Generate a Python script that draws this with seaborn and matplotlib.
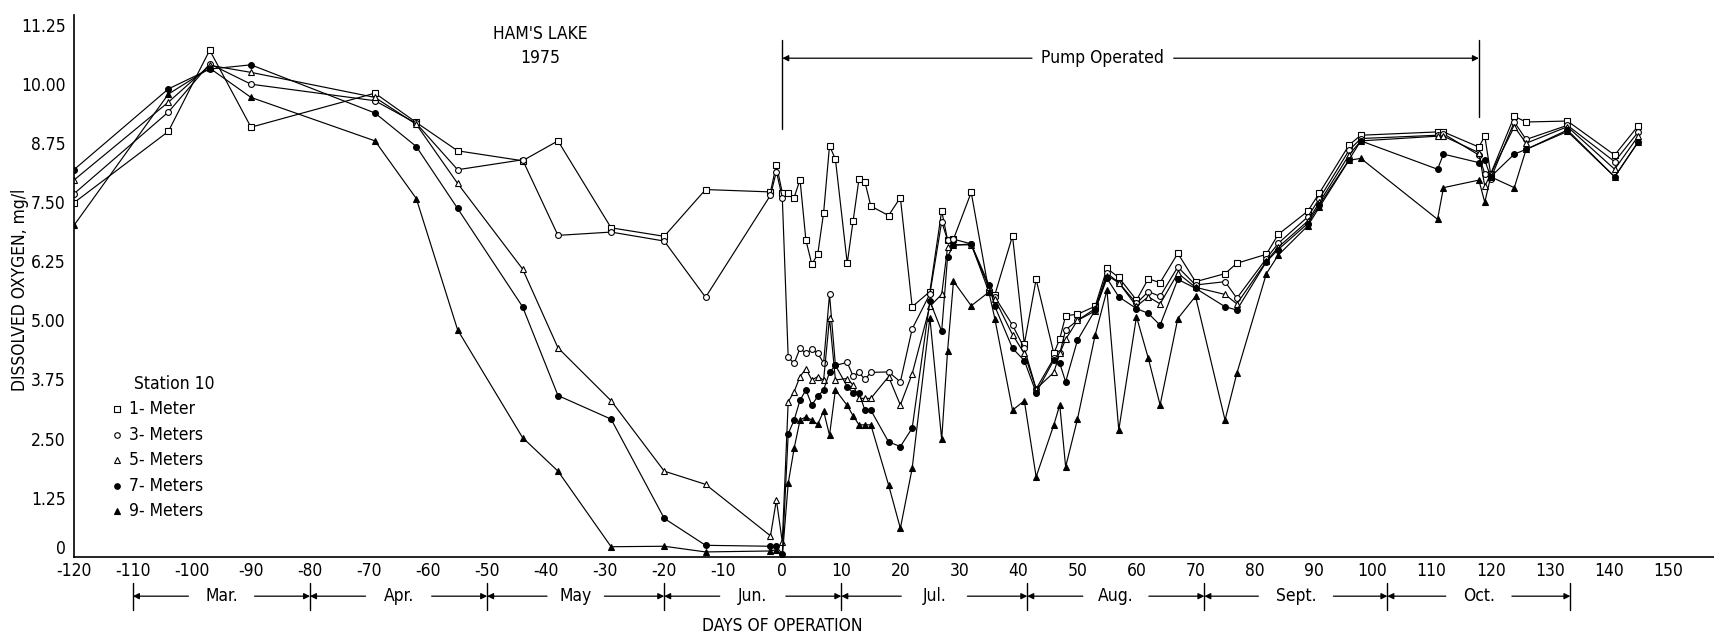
import matplotlib
matplotlib.use("Agg")
import matplotlib.pyplot as plt
from matplotlib import font_manager
from matplotlib.transforms import ScaledTranslation
import seaborn as sns
import pandas as pd

sns.set_theme(style="white")
_names = {f.name for f in font_manager.fontManager.ttflist}
_cond = [f for f in font_manager.fontManager.ttflist
         if f.name == "DejaVu Sans" and str(f.stretch) in ("condensed", "semi-condensed", "575")]
if "Liberation Sans Narrow" in _names:
    plt.rcParams['font.family'] = ['Liberation Sans Narrow', 'DejaVu Sans']
elif _cond:
    plt.rcParams['font.family'] = ['DejaVu Sans']
    plt.rcParams['font.stretch'] = 'condensed'
else:
    plt.rcParams['font.family'] = ['DejaVu Sans']
plt.rcParams['axes.unicode_minus'] = False

# ---------------- data ----------------
pre_days = [-120, -104, -97, -90, -69, -62, -55, -44, -38, -29, -20, -13, -2, -1]
post_days = [0, 1, 2, 3, 4, 5, 6, 7, 8, 9, 11, 12, 13, 14, 15, 18, 20, 22, 25, 27, 28, 29,
             32, 35, 36, 39, 41, 43, 46, 47, 48, 50, 53, 55, 57, 60, 62, 64, 67, 70, 75, 77,
             82, 84, 89, 91, 96, 98, 111, 112, 118, 119, 120, 124, 126, 133, 141, 145]
days = pre_days + post_days

m1 = [7.49, 9.00, 10.72, 9.09, 9.81, 9.19, 8.59, 8.38, 8.80, 6.96, 6.78, 7.77, 7.72, 8.30,
      7.70, 7.70, 7.60, 7.98, 6.70, 6.19, 6.40, 7.28, 8.70, 8.41, 6.21, 7.11, 8.00, 7.93, 7.42,
      7.22, 7.60, 5.29, 5.61, 7.32, 6.70, 6.72, 7.71, 5.61, 5.54, 6.79, 4.50, 5.87, 4.30, 4.61,
      5.10, 5.13, 5.30, 6.10, 5.91, 5.43, 5.88, 5.80, 6.42, 5.82, 5.99, 6.21, 6.40, 6.82, 7.31,
      7.70, 8.71, 8.92, 8.99, 8.99, 8.67, 8.90, 8.10, 9.32, 9.20, 9.22, 8.50, 9.12]
m3 = [7.68, 9.41, 10.43, 10.00, 9.65, 9.17, 8.19, 8.40, 6.80, 6.87, 6.68, 5.49, 7.65, 8.15,
      7.60, 4.22, 4.09, 4.41, 4.30, 4.39, 4.30, 4.10, 5.55, 4.05, 4.11, 3.82, 3.90, 3.75, 3.90,
      3.91, 3.70, 4.82, 5.56, 7.09, 6.70, 6.72, 6.62, 5.60, 5.50, 4.90, 4.41, 3.55, 4.20, 4.30,
      4.80, 5.00, 5.25, 6.00, 5.80, 5.36, 5.61, 5.51, 6.13, 5.75, 5.82, 5.47, 6.31, 6.63, 7.19,
      7.58, 8.60, 8.85, 8.92, 8.95, 8.50, 8.10, 8.00, 9.20, 8.83, 9.13, 8.36, 8.99]
m5 = [7.97, 9.62, 10.40, 10.25, 9.72, 9.15, 7.90, 6.09, 4.42, 3.30, 1.81, 1.53, 0.44, 1.20,
      0.31, 3.28, 3.49, 3.81, 3.98, 3.74, 3.81, 3.74, 5.05, 3.74, 3.77, 3.63, 3.35, 3.35, 3.35,
      3.81, 3.21, 3.87, 5.30, 5.55, 6.55, 6.60, 6.60, 5.70, 5.45, 4.70, 4.30, 3.55, 3.90, 4.30,
      4.60, 5.00, 5.20, 5.95, 5.80, 5.30, 5.50, 5.35, 6.00, 5.70, 5.55, 5.35, 6.25, 6.55, 7.10,
      7.50, 8.50, 8.80, 8.90, 8.90, 8.55, 7.84, 8.10, 9.10, 8.75, 9.10, 8.20, 8.90]
m7 = [8.19, 9.90, 10.32, 10.41, 9.39, 8.68, 7.37, 5.29, 3.41, 2.91, 0.81, 0.24, 0.22, 0.22,
      0.05, 2.60, 2.89, 3.31, 3.53, 3.21, 3.39, 3.53, 3.90, 4.05, 3.60, 3.46, 3.46, 3.10, 3.10,
      2.43, 2.33, 2.72, 5.41, 4.77, 6.35, 6.59, 6.62, 5.75, 5.30, 4.41, 4.15, 3.47, 4.16, 4.09,
      3.70, 4.58, 5.22, 5.89, 5.50, 5.25, 5.15, 4.90, 5.87, 5.68, 5.29, 5.22, 6.24, 6.50, 7.05,
      7.45, 8.40, 8.80, 8.20, 8.52, 8.34, 8.39, 8.04, 8.52, 8.62, 9.03, 8.04, 8.78]
m9 = [7.01, 9.79, 10.34, 9.72, 8.80, 7.58, 4.80, 2.52, 1.81, 0.21, 0.22, 0.10, 0.12, 0.15,
      0.00, 1.55, 2.29, 2.89, 2.96, 2.89, 2.80, 3.08, 2.57, 3.53, 3.20, 2.98, 2.79, 2.79, 2.79,
      1.52, 0.60, 1.87, 5.06, 2.48, 4.36, 5.83, 5.31, 5.60, 5.04, 3.10, 3.30, 1.69, 2.79, 3.21,
      1.90, 2.91, 4.69, 5.64, 2.68, 5.08, 4.20, 3.21, 5.04, 5.51, 2.89, 3.88, 5.99, 6.38, 7.00,
      7.40, 8.39, 8.43, 7.14, 7.81, 7.97, 7.50, 8.04, 7.81, 8.62, 9.00, 8.04, 8.78]

series_names = ["1- Meter", "3- Meters", "5- Meters", "7- Meters", "9- Meters"]
series_vals = [m1, m3, m5, m7, m9]
markers = ["s", "o", "^", "o", "^"]
filled = [False, False, False, True, True]
msizes = [4.2, 4.2, 4.2, 4.2, 4.2]

yticks = [0, 1.25, 2.50, 3.75, 5.00, 6.25, 7.50, 8.75, 10.00, 11.25]
ytick_labels = ["0", "1.25", "2.50", "3.75", "5.00", "6.25", "7.50", "8.75", "10.00", "11.25"]
xticks = list(range(-120, 151, 10))

month_bounds = [-110, -80, -50, -20, 10, 41.5, 71.5, 102.5, 133.5]
month_labels = ["Mar.", "Apr.", "May", "Jun.", "Jul.", "Aug.", "Sept.", "Oct."]

pump_start, pump_end = 0, 118

# ---------------- figure ----------------
fig = plt.figure(figsize=(17.15, 6.34), dpi=100)
ax = fig.add_axes([0.0431, 0.122, 0.9569, 0.854])

for name, vals, mk, fl, ms in zip(series_names, series_vals, markers, filled, msizes):
    df = pd.DataFrame({"day": days, "do": vals})
    sns.lineplot(data=df, x="day", y="do", ax=ax, color="black", lw=0.85,
                 marker=mk, markersize=ms, markerfacecolor=("black" if fl else "white"),
                 markeredgecolor="black", markeredgewidth=0.8,
                 estimator=None, sort=False, legend=False)

ax.set_xlim(-120, 158)
ax.set_ylim(0, 11.46)
ax.set_xlabel("")
ax.set_ylabel("")
for s in ["top", "right"]:
    ax.spines[s].set_visible(False)
for s in ["left", "bottom"]:
    ax.spines[s].set_color("black")
    ax.spines[s].set_linewidth(1.2)

ax.set_yticks(yticks)
ax.set_yticklabels(ytick_labels)
ax.set_xticks(xticks)
ax.set_xticklabels([str(t) for t in xticks])
ax.tick_params(axis="y", direction="inout", length=10, width=1, labelsize=12.5, pad=1, colors="black")
ax.tick_params(axis="x", direction="in", length=13, width=1, labelsize=12.5, pad=4, colors="black")
ax.tick_params(axis="x", which="both", top=False)
ax.tick_params(axis="y", right=False)

# lift the "0" label a little so it sits above "-120", as in the original
zero_lab = ax.get_yticklabels()[0]
zero_lab.set_transform(zero_lab.get_transform() + ScaledTranslation(0, 7 / 72, fig.dpi_scale_trans))

# axis labels
fig.text(20 / 1715, 1 - 290 / 634, "DISSOLVED OXYGEN, mg/l", rotation=90,
         ha="center", va="center", fontsize=12.5, color="black")
ax.text(0, -0.128, "DAYS OF OPERATION", transform=ax.get_xaxis_transform(),
        ha="center", va="center", fontsize=12.5, color="black")

# title
ax.text(-41, 11.06, "HAM'S LAKE", ha="center", va="center", fontsize=12.5, color="black")
ax.text(-41, 10.55, "1975", ha="center", va="center", fontsize=12.5, color="black")

# month brackets
tr = ax.get_xaxis_transform()
ym = -0.073
for b in month_bounds:
    ax.plot([b, b], [-0.048, -0.098], transform=tr, color="black", lw=1.0, clip_on=False)
for a, b, lab in zip(month_bounds[:-1], month_bounds[1:], month_labels):
    c = (a + b) / 2
    hw = 2.6 + 0.75 * len(lab)
    ax.text(c, ym, lab, transform=tr, ha="center", va="center", fontsize=12.5, color="black")
    for start, end in [(c - hw, a), (c + hw, b)]:
        ax.annotate("", xy=(end, ym), xycoords=tr, xytext=(start, ym), textcoords=tr,
                    arrowprops=dict(arrowstyle="-|>", color="black", lw=0.9,
                                    mutation_scale=9, shrinkA=0, shrinkB=0),
                    annotation_clip=False)

# pump operated bracket
ax.plot([pump_start, pump_start], [9.05, 10.93], color="black", lw=1.0)
ax.plot([pump_end, pump_end], [9.3, 10.93], color="black", lw=1.0)
ax.text(54.3, 10.55, "Pump Operated", ha="center", va="center", fontsize=12.5, color="black")
for start, end in [(42.3, pump_start), (66.3, pump_end)]:
    ax.annotate("", xy=(end, 10.55), xytext=(start, 10.55),
                arrowprops=dict(arrowstyle="-|>", color="black", lw=0.9,
                                mutation_scale=9, shrinkA=0, shrinkB=0))

# legend (manual, inside the axes)
ax.text(-109.8, 3.66, "Station 10", ha="left", va="center", fontsize=12.5, color="black")
leg_y = [3.12, 2.58, 2.04, 1.50, 0.96]
for name, mk, fl, yv in zip(series_names, markers, filled, leg_y):
    ax.plot([-112.7], [yv], marker=mk, markersize=4.0, color="black",
            markerfacecolor=("black" if fl else "white"), markeredgecolor="black",
            markeredgewidth=0.8, linestyle="none", clip_on=False)
    ax.text(-110.6, yv, name, ha="left", va="center", fontsize=12.5, color="black")

fig.savefig("out.png", dpi=100, facecolor="white")
